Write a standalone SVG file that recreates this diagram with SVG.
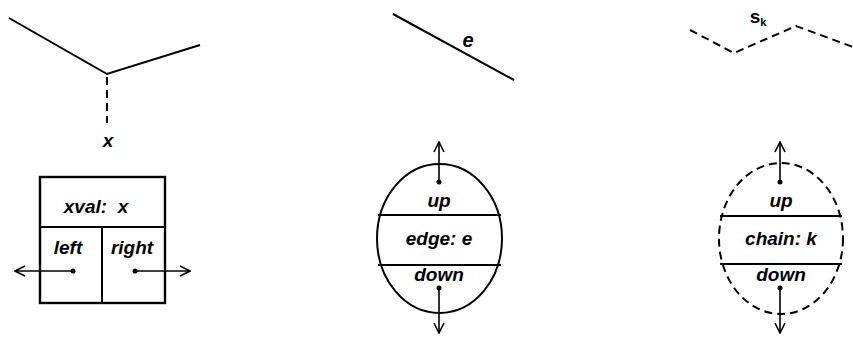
<svg xmlns="http://www.w3.org/2000/svg" width="853" height="337" viewBox="0 0 853 337">
<style>
.ln{fill:none;stroke:#000;stroke-width:2}
.ds{fill:none;stroke:#000;stroke-width:2;stroke-dasharray:8,5}
.t{font-family:"Liberation Sans",Arial,sans-serif;font-style:italic;font-weight:bold;font-size:19px;fill:#000;text-anchor:middle;white-space:pre}
.dot{fill:#000}
.ar{fill:none;stroke:#000;stroke-width:1.6}
</style>
<defs>
<marker id="ah" viewBox="0 0 12 12" refX="11" refY="6" markerWidth="12" markerHeight="12" markerUnits="userSpaceOnUse" orient="auto">
<path d="M1,1 L11,6 L1,11" fill="none" stroke="#000" stroke-width="1.6"/>
</marker>
</defs>
<g id="vertex-geom">
<polyline class="ln" points="9,18 107,74 200,45"/>
<line class="ds" x1="107" y1="77" x2="107" y2="123"/>
<text class="t" x="108" y="147">x</text>
</g>
<g id="edge-geom">
<line class="ln" x1="393" y1="14" x2="514" y2="80"/>
<text class="t" x="468" y="47" style="font-size:20px">e</text>
</g>
<g id="chain-geom">
<polyline class="ds" points="690,30 734,53 796,26 853,47"/>
<text class="t" x="758" y="23" style="font-style:normal">s<tspan font-size="11" dy="3">k</tspan></text>
</g>
<g id="xnode">
<rect class="ln" x="40" y="177" width="125" height="126" style="stroke-width:2.4"/>
<line class="ln" x1="40" y1="227" x2="165" y2="227"/>
<line class="ln" x1="102" y1="227" x2="102" y2="303"/>
<text class="t" x="96" y="213">xval:  x</text>
<text class="t" x="68" y="254">left</text>
<text class="t" x="132" y="254">right</text>
</g>
<g id="edgenode">
<ellipse class="ln" cx="439.5" cy="238.5" rx="62.5" ry="74.5"/>
<line class="ln" x1="378" y1="215" x2="501" y2="215"/>
<line class="ln" x1="378" y1="265" x2="501" y2="265"/>
<text class="t" x="439" y="207">up</text>
<text class="t" x="439" y="245">edge: e</text>
<text class="t" x="439" y="281">down</text>
</g>
<g id="chainnode">
<ellipse class="ds" cx="781" cy="238.5" rx="62" ry="75.5"/>
<line class="ln" x1="720" y1="216" x2="842" y2="216"/>
<line class="ln" x1="720" y1="264" x2="842" y2="264"/>
<text class="t" x="781" y="207">up</text>
<text class="t" x="781" y="245">chain: k</text>
<text class="t" x="781" y="281">down</text>
</g>
<g id="connectors">
<circle class="dot" cx="73" cy="271" r="2.5"/>
<line class="ar" x1="73" y1="271" x2="15" y2="271" marker-end="url(#ah)"/>
<circle class="dot" cx="135" cy="271" r="2.5"/>
<line class="ar" x1="135" y1="271" x2="190" y2="271" marker-end="url(#ah)"/>
<circle class="dot" cx="439" cy="182" r="2.5"/>
<line class="ar" x1="439" y1="182" x2="439" y2="142" marker-end="url(#ah)"/>
<circle class="dot" cx="439" cy="288" r="2.5"/>
<line class="ar" x1="439" y1="288" x2="439" y2="333" marker-end="url(#ah)"/>
<circle class="dot" cx="780" cy="182" r="2.5"/>
<line class="ar" x1="780" y1="182" x2="780" y2="142" marker-end="url(#ah)"/>
<circle class="dot" cx="780" cy="288" r="2.5"/>
<line class="ar" x1="780" y1="288" x2="780" y2="333" marker-end="url(#ah)"/>
</g>
</svg>
